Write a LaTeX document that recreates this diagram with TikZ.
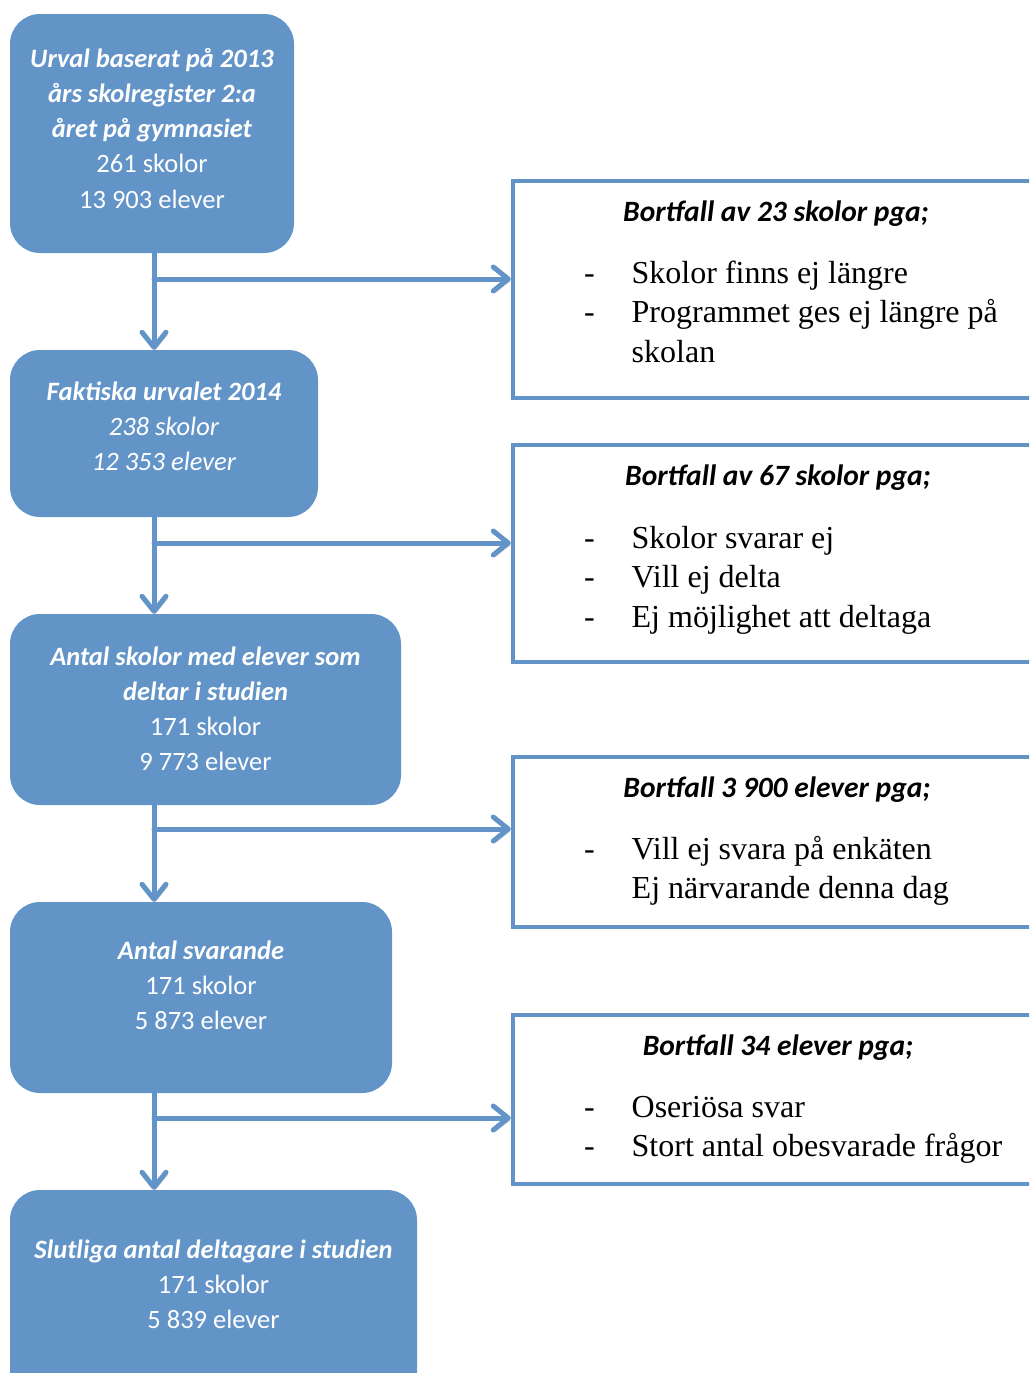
\documentclass[tikz,border=0pt]{standalone}
\usepackage{fontspec}
\setmainfont{Carlito}
\newfontfamily\serifTNR{Liberation Serif}
\usetikzlibrary{arrows.meta}
\definecolor{mblue}{RGB}{98,148,200}
\newcommand\boxfont{\fontsize{26.5}{35.3}\selectfont}
\newcommand\headfont{\fontsize{29.5}{35.3}\selectfont}
\newcommand\listfont{\serifTNR\fontsize{32}{39.7}\selectfont}
\newcommand\bi[1]{\textbf{\textit{#1}}}
\newcommand\dsh{\makebox[47.5pt][l]{-}}
\begin{document}
\begin{tikzpicture}[x=1pt,y=-1pt,
  lbox/.style={fill=mblue, draw=none, rounded corners=30pt, inner sep=0pt},
  rbox/.style={draw=mblue, line width=4.5pt, fill=white, inner sep=0pt},
  wtxt/.style={text=white, inner sep=0pt, font=\boxfont},
  htxt/.style={text=black, inner sep=0pt, font=\headfont},
  ltxt/.style={text=black, inner sep=0pt, anchor=base west},
  conn/.style={draw=mblue, line width=5pt, line cap=round,
    -{Straight Barb[length=15pt,width=24pt,line cap=round,line join=round]},
    preaction={draw=black, opacity=0.18, transform canvas={shift={(1.5pt,-2.5pt)}}}}
]
\useasboundingbox (0,0) rectangle (1029,1373);
\clip (0,0) rectangle (1029,1373);

% left boxes
\node[lbox, minimum width=284pt, minimum height=239pt] (b1) at (152,133.5) {};
\node[lbox, minimum width=308pt, minimum height=167pt] (b2) at (164,433.5) {};
\node[lbox, minimum width=391pt, minimum height=191pt] (b3) at (205.5,709.5) {};
\node[lbox, minimum width=382pt, minimum height=191pt] (b4) at (201,997.5) {};
\node[lbox, minimum width=407pt, minimum height=220pt] (b5) at (213.5,1300) {};

% right boxes
\node[rbox, minimum width=540pt, minimum height=217pt] (rA) at (783,289.5) {};
\node[rbox, minimum width=540pt, minimum height=217pt] (rB) at (783,553.5) {};
\node[rbox, minimum width=540pt, minimum height=170pt] (rC) at (783,842) {};
\node[rbox, minimum width=540pt, minimum height=169pt] (rD) at (783,1099.5) {};

% left texts
\node[wtxt, anchor=base] (t1) at (152,67) {\begin{tabular}[t]{@{}c@{}}\bi{Urval baserat på 2013}\\ \bi{års skolregister 2:a}\\ \bi{året på gymnasiet}\\ 261 skolor\\ 13 903 elever\end{tabular}};
\node[wtxt, anchor=base] (t2) at (164,400) {\begin{tabular}[t]{@{}c@{}}\bi{Faktiska urvalet 2014}\\ \textit{238 skolor}\\ \textit{12 353 elever}\end{tabular}};
\node[wtxt, anchor=base] (t3) at (205.5,665) {\begin{tabular}[t]{@{}c@{}}\bi{Antal skolor med elever som}\\ \bi{deltar i studien}\\ 171 skolor\\ 9 773 elever\end{tabular}};
\node[wtxt, anchor=base] (t4) at (201,959) {\begin{tabular}[t]{@{}c@{}}\bi{Antal svarande}\\ 171 skolor\\ 5 873 elever\end{tabular}};
\node[wtxt, anchor=base] (t5) at (213.5,1258) {\begin{tabular}[t]{@{}c@{}}\bi{Slutliga antal deltagare i studien}\\ 171 skolor\\ 5 839 elever\end{tabular}};

% right headings
\node[htxt, anchor=base] (hA) at (776,221) {\bi{Bortfall av 23 skolor pga;}};
\node[htxt, anchor=base] (hB) at (778,485) {\bi{Bortfall av 67 skolor pga;}};
\node[htxt, anchor=base] (hC) at (777,797) {\bi{Bortfall 3 900 elever pga;}};
\node[htxt, anchor=base] (hD) at (778,1055) {\bi{Bortfall 34 elever pga;}};

% right lists
\node[ltxt] (lA) at (584,283) {\listfont\begin{tabular}[t]{@{}l@{}}\dsh Skolor finns ej längre\\ \dsh Programmet ges ej längre på\\ \hspace*{47.5pt}skolan\end{tabular}};
\node[ltxt] (lB) at (584,548) {\listfont\begin{tabular}[t]{@{}l@{}}\dsh Skolor svarar ej\\ \dsh Vill ej delta\\ \dsh Ej möjlighet att deltaga\end{tabular}};
\node[ltxt] (lC) at (584,859) {\listfont\begin{tabular}[t]{@{}l@{}}\dsh Vill ej svara på enkäten\\ \hspace*{47.5pt}Ej närvarande denna dag\end{tabular}};
\node[ltxt] (lD) at (584,1117) {\listfont\begin{tabular}[t]{@{}l@{}}\dsh Oseriösa svar\\ \dsh Stort antal obesvarade frågor\end{tabular}};

% connectors
\coordinate (trunk) at (154,0);
\coordinate (j1) at (154,279);
\coordinate (j2) at (154,543);
\coordinate (j3) at (154,829);
\coordinate (j4) at (154,1118);
\draw[conn] (b1.south -| trunk) -- (b2.north -| trunk);
\draw[conn] (b2.south -| trunk) -- (b3.north -| trunk);
\draw[conn] (b3.south -| trunk) -- (b4.north -| trunk);
\draw[conn] (b4.south -| trunk) -- (b5.north -| trunk);
\draw[conn] (j1) -- (j1 -| rA.west);
\draw[conn] (j2) -- (j2 -| rB.west);
\draw[conn] (j3) -- (j3 -| rC.west);
\draw[conn] (j4) -- (j4 -| rD.west);
\end{tikzpicture}
\end{document}
